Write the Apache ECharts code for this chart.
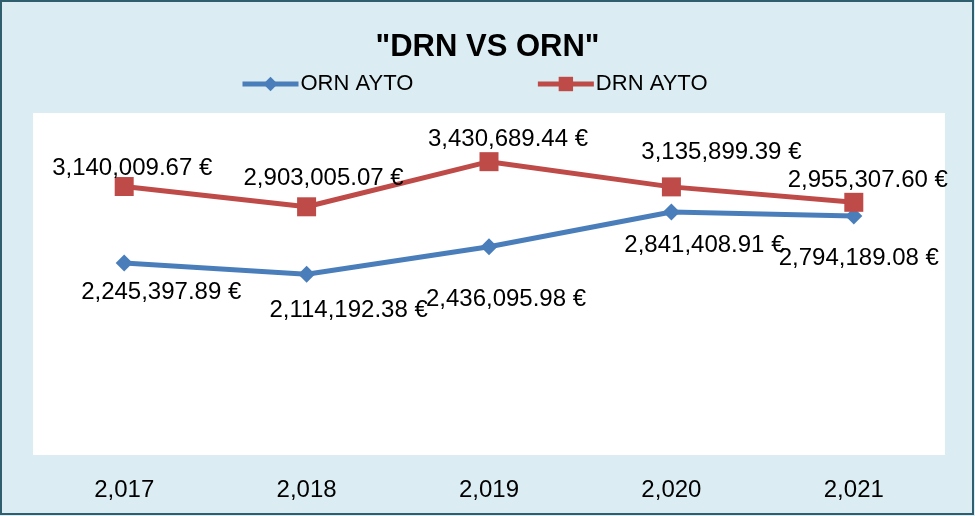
<!DOCTYPE html>
<html>
<head>
<meta charset="utf-8">
<script src="https://cdn.jsdelivr.net/npm/echarts@6/dist/echarts.min.js"></script>
<style>
  html, body { margin: 0; padding: 0; background: #dbedf3; }
  #chart { width: 975px; height: 516px; }
</style>
</head>
<body>
<div id="chart"></div>
<script>
// datos
const years = [2017, 2018, 2019, 2020, 2021];
const ornAyto = [2245397.89, 2114192.38, 2436095.98, 2841408.91, 2794189.08];
const drnAyto = [3140009.67, 2903005.07, 3430689.44, 3135899.39, 2955307.60];

// desplazamiento de etiquetas (solo estilo)
const ornOffsets = [[37, 29], [42, 36], [17, 53], [33, 33], [5, 42]];
const drnOffsets = [[8, -18], [17, -28], [19, -22], [50, -35], [14, -22]];

const fmtEuro = v => v.toLocaleString('en-US', { minimumFractionDigits: 2, maximumFractionDigits: 2 }) + ' €';
const font = '"Liberation Sans", Arial, sans-serif';

const build = (vals, offs) => vals.map((v, i) => ({ value: v, label: { offset: offs[i] } }));

const chart = echarts.init(document.getElementById('chart'));
chart.setOption({
  backgroundColor: '#dbedf3',
  animation: false,
  textStyle: { fontFamily: font },
  graphic: [{
    type: 'rect',
    shape: { x: 1, y: 1, width: 972, height: 513 },
    style: { fill: 'none', stroke: '#2f5e6e', lineWidth: 2 }
  }],
  title: {
    text: '"DRN VS ORN"',
    left: 'center',
    top: 27,
    textStyle: { fontFamily: font, fontSize: 31, fontWeight: 'bold', color: '#000' }
  },
  legend: {
    top: 68,
    left: 235,
    itemWidth: 56,
    itemHeight: 18,
    itemGap: 122,
    lineStyle: { width: 5 },
    textStyle: { fontFamily: font, fontSize: 22, color: '#000', padding: [0, 0, 0, -3] },
    data: ['ORN AYTO', 'DRN AYTO']
  },
  grid: {
    left: 33, right: 30, top: 113, bottom: 61,
    show: true, backgroundColor: '#fff', borderWidth: 0
  },
  xAxis: {
    type: 'category',
    data: years.map(y => y.toLocaleString('en-US')),
    axisLine: { show: false },
    axisTick: { show: false },
    axisLabel: { margin: 23, fontFamily: font, fontSize: 24, color: '#000' }
  },
  yAxis: {
    type: 'value',
    min: 0,
    max: 4000000,
    show: false,
    splitLine: { show: false }
  },
  series: [
    {
      name: 'ORN AYTO',
      type: 'line',
      data: build(ornAyto, ornOffsets),
      symbol: 'diamond',
      symbolSize: 17,
      lineStyle: { width: 5, color: '#4a7ebb' },
      itemStyle: { color: '#4a7ebb' },
      label: {
        show: true, position: 'inside', align: 'center', verticalAlign: 'middle',
        fontFamily: font, fontSize: 24, color: '#000',
        formatter: p => fmtEuro(p.value)
      }
    },
    {
      name: 'DRN AYTO',
      type: 'line',
      data: build(drnAyto, drnOffsets),
      symbol: 'rect',
      symbolSize: 19,
      lineStyle: { width: 5, color: '#be4b48' },
      itemStyle: { color: '#be4b48' },
      label: {
        show: true, position: 'inside', align: 'center', verticalAlign: 'middle',
        fontFamily: font, fontSize: 24, color: '#000',
        formatter: p => fmtEuro(p.value)
      }
    }
  ]
});
</script>
</body>
</html>
